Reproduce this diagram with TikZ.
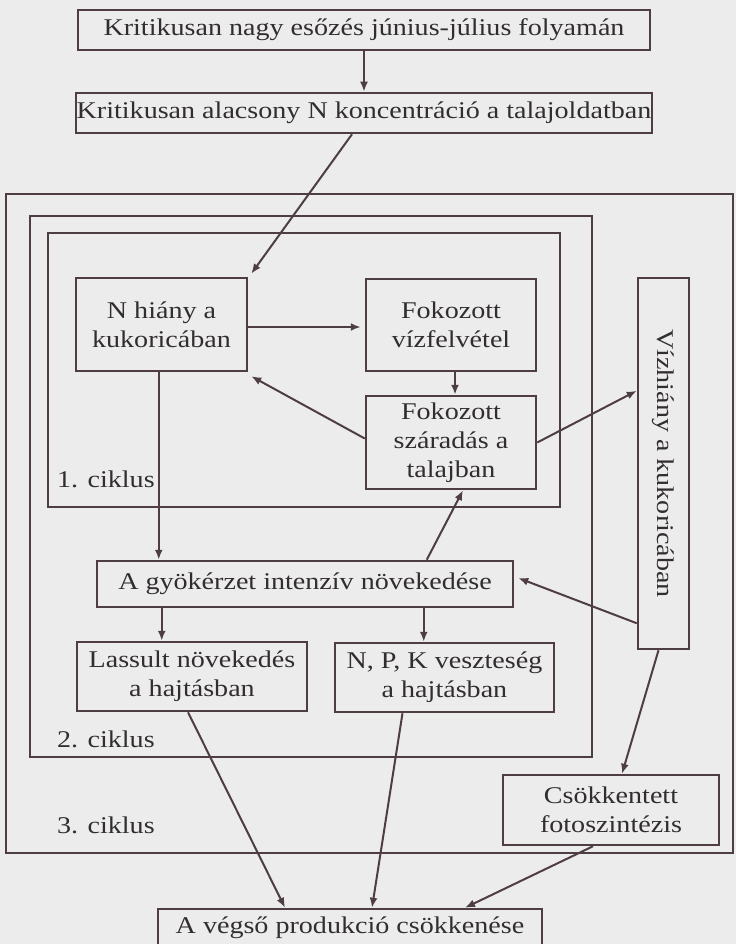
\documentclass[tikz,border=0pt]{standalone}
\usepackage{fontspec}
\setmainfont{Liberation Serif}[FakeStretch=1.17]
\usetikzlibrary{arrows.meta,calc}
\definecolor{ink}{RGB}{78,62,68}
\definecolor{txt}{RGB}{50,46,48}
\definecolor{paper}{RGB}{236,236,236}
\begin{document}
\begin{tikzpicture}[x=1pt,y=-1pt,
  every node/.style={font=\fontsize{24}{29}\selectfont, text=txt, inner sep=0pt},
  box/.style={draw=ink, line width=2.5pt, fill=paper, align=center},
  cyc/.style={draw=ink, line width=2.5pt},
  arr/.style={draw=ink, line width=2pt, -{Latex[length=10pt,width=8pt]}},
  lbl/.style={anchor=base west}
]
\fill[paper] (0,0) rectangle (736,944);
\useasboundingbox (0,0) rectangle (736,944);
% cycle frames
\node[cyc, minimum width=727pt, minimum height=659pt] (c3) at (369.5,523.5) {};
\node[cyc, minimum width=562pt, minimum height=541pt] (c2) at (311,486.5) {};
\node[cyc, minimum width=512pt, minimum height=274pt] (c1) at (304,370) {};
% boxes
\node[box, minimum width=572pt, minimum height=40pt] (top) at (364,30) {Kritikusan nagy esőzés június-július folyamán};
\node[box, minimum width=576pt, minimum height=40pt] (conc) at (364,113) {Kritikusan alacsony N koncentráció a talajoldatban};
\node[box, minimum width=171pt, minimum height=93pt] (nh) at (161.5,324.5) {N hiány a\\kukoricában};
\node[box, minimum width=170pt, minimum height=92pt] (viz) at (451,325) {Fokozott\\vízfelvétel};
\node[box, minimum width=170pt, minimum height=93pt] (szar) at (451,442.5) {Fokozott\\száradás a\\talajban};
\node[box, minimum width=51pt, minimum height=371pt] (vh) at (663.5,463.5) {};
\node[rotate=-90] (vht) at (vh.center) {Vízhiány a kukoricában};
\node[box, minimum width=416pt, minimum height=46pt] (gyok) at (305,584) {A gyökérzet intenzív növekedése};
\node[box, minimum width=230pt, minimum height=69pt] (lass) at (192,676.5) {Lassult növekedés\\a hajtásban};
\node[box, minimum width=219pt, minimum height=69pt] (npk) at (444.5,677.5) {N, P, K veszteség\\a hajtásban};
\node[box, minimum width=216pt, minimum height=70pt] (csok) at (611,810) {Csökkentett\\fotoszintézis};
\node[box, minimum width=384pt, minimum height=60pt, text depth=0pt] (fin) at (350,939) {};
\node[anchor=base] (fint) at (350,933) {A végső produkció csökkenése};
% labels
\node[lbl] (l1) at (57,487) {1. ciklus};
\node[lbl] (l2) at (57,747) {2. ciklus};
\node[lbl] (l3) at (57,833) {3. ciklus};
% connectors
\draw[arr] (top.south) -- (conc.north);
\draw[arr] ($(conc.south)+(-12,0)$) -- ($(nh.north east)+(3,-3)$);
\draw[arr, shorten >=4pt] ($(nh.east)+(0,2.5)$) -- ($(viz.west)+(0,2)$);
\draw[arr] ($(viz.south)+(4,0)$) -- ($(szar.north)+(4,0)$);
\draw[arr] ($(szar.west)+(0,-4)$) -- ($(nh.south east)+(3,4)$);
\draw[arr] ($(szar.east)+(0,0)$) -- ($(vh.north west)+(0,114)$);
\draw[arr] ($(nh.south west)+(84,0)$) -- ($(gyok.north west)+(63,0)$);
\draw[arr] ($(gyok.north west)+(331,0)$) -- ($(szar.south)+(12,0)$);
\draw[arr] ($(vh.south west)+(0,-27)$) -- ($(gyok.east)+(4,-6)$);
\draw[arr] ($(gyok.south west)+(66,0)$) -- ($(lass.north west)+(86,0)$);
\draw[arr] ($(gyok.south west)+(328,0)$) -- ($(npk.north west)+(90,0)$);
\draw[arr] ($(vh.south)+(-5,0)$) -- ($(csok.north)+(11,0)$);
\draw[arr] ($(lass.south)+(-4,0)$) -- ($(fin.north)+(-65,0)$);
\draw[arr] ($(npk.south)+(-42,0)$) -- ($(fin.north)+(22,0)$);
\draw[arr] ($(csok.south)+(-18,0)$) -- ($(fin.north)+(115,0)$);
\end{tikzpicture}
\end{document}
